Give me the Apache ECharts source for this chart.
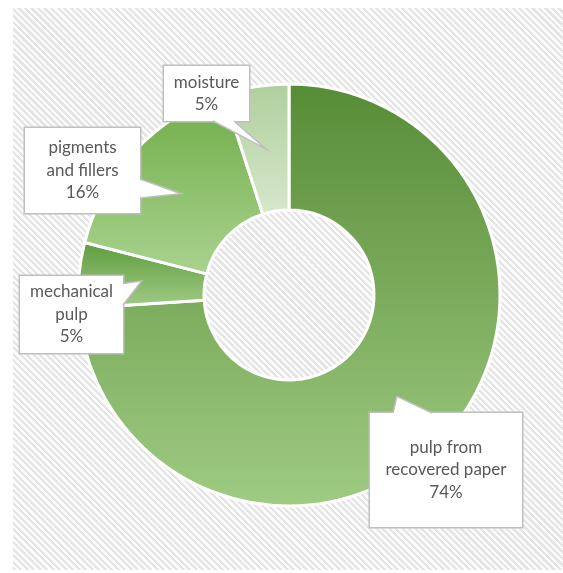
<!DOCTYPE html>
<html>
<head>
<meta charset="utf-8">
<script src="https://cdn.jsdelivr.net/npm/echarts@6/dist/echarts.min.js"></script>
<style>
html, body { margin: 0; padding: 0; background: #fff; }
.wrap { position: relative; width: 563px; height: 573px; }
.hatch {
  position: absolute; left: 13px; top: 8px; width: 550px; height: 562px;
  background: repeating-linear-gradient(45deg, #e5e5e5 0px, #e5e5e5 2.2px, #fbfbfb 2.2px, #fbfbfb 4.6px);
}
#chart { position: absolute; left: 0; top: 0; width: 563px; height: 573px; }
</style>
</head>
<body>
<div class="wrap">
  <div class="hatch"></div>
  <div id="chart"></div>
</div>
<script>
// data
const categories = ['pulp from\nrecovered paper', 'mechanical\npulp', 'pigments\nand fillers', 'moisture']
const shares = [74, 5, 16, 5]

// layout / style
const pieCenter = [289, 295]
const pieRadius = [85, 211]
const sliceGradients = [
  ['#578c36', '#9fcb83'],
  ['#5e9c3e', '#a2cc87'],
  ['#6fac47', '#aad38f'],
  ['#b0cf9d', '#d6e8cc']
]
// callout boxes: center x, center y, width, height
const boxes = [
  [446, 470, 152, 114],
  [71.5, 314.5, 103, 77],
  [82.5, 170.5, 115, 85],
  [206.5, 93.5, 85, 55]
]
// pointer base on box edge, relative to box center
const pointerBase = [
  [[-53, -57], [-14, -57]],
  [[51.5, -31], [51.5, -9.5]],
  [[57.5, 8.5], [57.5, 27.5]],
  [[6.5, 27.5], [27.5, 27.5]]
]
const pointerNormal = [[0, 1], [-1, 0], [-1, 0], [0, -1]]
const lineH = 22.5

const chart = echarts.init(document.getElementById('chart'))

// pointer tips sit at the middle of each ring slice
const total = shares.reduce((a, b) => a + b, 0)
const midR = (pieRadius[0] + pieRadius[1]) / 2
let acc = 0
const tips = shares.map(v => {
  const a = (acc + v / 2) / total * Math.PI * 2
  acc += v
  return [pieCenter[0] + midR * Math.sin(a), pieCenter[1] - midR * Math.cos(a)]
})

const pointers = []
boxes.forEach((b, i) => {
  const p1 = [b[0] + pointerBase[i][0][0], b[1] + pointerBase[i][0][1]]
  const p2 = [b[0] + pointerBase[i][1][0], b[1] + pointerBase[i][1][1]]
  const n = pointerNormal[i]
  pointers.push({
    type: 'polygon', z: 100,
    shape: {points: [[p1[0] + n[0] * 2.5, p1[1] + n[1] * 2.5], p1, tips[i], p2, [p2[0] + n[0] * 2.5, p2[1] + n[1] * 2.5]]},
    style: {fill: '#fff'}
  })
  pointers.push({
    type: 'polyline', z: 101,
    shape: {points: [p1, tips[i], p2]},
    style: {stroke: '#bfbfbf', lineWidth: 1.5, fill: null}
  })
})

const seriesData = categories.map((name, i) => {
  const lines = name.split('\n').length + 1
  const b = boxes[i]
  return {
    name: name,
    value: shares[i],
    itemStyle: {
      color: {
        type: 'linear', x: 0, y: 0, x2: 0, y2: 1,
        colorStops: [
          {offset: 0, color: sliceGradients[i][0]},
          {offset: 1, color: sliceGradients[i][1]}
        ]
      }
    },
    label: {
      width: b[2],
      padding: [(b[3] - lines * lineH) / 2, 0]
    }
  }
})

let option = {
  animation: false,
  graphic: pointers,
  series: [
    {
      type: 'pie',
      center: pieCenter,
      radius: pieRadius,
      startAngle: 90,
      clockwise: true,
      itemStyle: {
        borderColor: '#fff',
        borderWidth: 3
      },
      label: {
        show: true,
        position: 'inside',
        formatter: '{b}\n{c}%',
        fontFamily: 'Lato',
        fontSize: 17,
        lineHeight: lineH,
        color: '#595959',
        align: 'center',
        backgroundColor: '#fff',
        borderColor: '#bfbfbf',
        borderWidth: 1.5
      },
      labelLayout: function (params) {
        const b = boxes[params.dataIndex]
        return {x: b[0], y: b[1], align: 'center', verticalAlign: 'middle'}
      },
      emphasis: {disabled: true},
      data: seriesData
    }
  ]
}
chart.setOption(option)
</script>
</body>
</html>
